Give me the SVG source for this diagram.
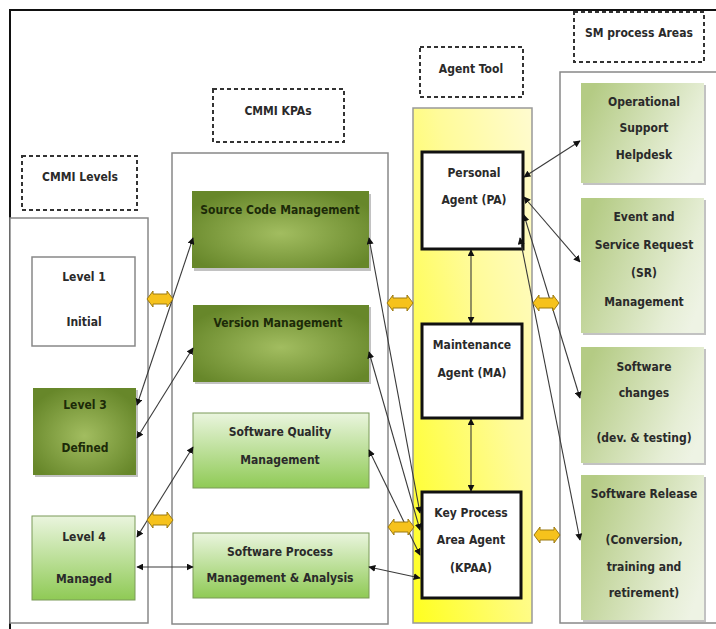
<svg xmlns="http://www.w3.org/2000/svg" width="716" height="629" viewBox="0 0 716 629">
<defs>
<style>
text{font-family:"DejaVu Sans Condensed","DejaVu Sans","Liberation Sans",sans-serif;font-stretch:condensed;font-weight:bold;font-size:12px;text-anchor:middle;fill:#2a2a2a}
.dark text{fill:#1c2a08}
.dash{fill:#fff;stroke:#333;stroke-width:2;stroke-dasharray:4 3}
.cont{fill:#fff;stroke:#888;stroke-width:1.5}
.agent{fill:#fff;stroke:#111;stroke-width:3}
.shadow{fill:#9a9a9a;opacity:0.6}
.conn line{stroke:#3a3a3a;stroke-width:1.1;marker-start:url(#ah);marker-end:url(#ah)}
.blk{fill:#f6c21c;stroke:#9c7a10;stroke-width:1}
</style>
<marker id="ah" viewBox="0 0 10 10" refX="9" refY="5" markerWidth="7" markerHeight="7" orient="auto-start-reverse" markerUnits="userSpaceOnUse">
<path d="M0,0 L10,5 L0,10 Z" fill="#111"/>
</marker>
<radialGradient id="gDark" cx="50%" cy="55%" r="60%">
<stop offset="0" stop-color="#a2bd60"/>
<stop offset="1" stop-color="#67872a"/>
</radialGradient>
<linearGradient id="gLight" x1="0" y1="0" x2="0" y2="1">
<stop offset="0" stop-color="#eaf5de"/>
<stop offset="1" stop-color="#8fca55"/>
</linearGradient>
<linearGradient id="gSM" x1="0" y1="0.3" x2="1" y2="0.7">
<stop offset="0" stop-color="#b4cb84"/>
<stop offset="0.8" stop-color="#e6eed6"/>
<stop offset="1" stop-color="#eef3e4"/>
</linearGradient>
<linearGradient id="gYel" x1="0" y1="1" x2="1" y2="0">
<stop offset="0" stop-color="#ffff1e"/>
<stop offset="0.6" stop-color="#fffb9a"/>
<stop offset="1" stop-color="#fffbd0"/>
</linearGradient>
<path id="dbl" d="M-13,0 L-7,-8 L-7,-5 L7,-5 L7,-8 L13,0 L7,8 L7,5 L-7,5 L-7,8 Z"/>
</defs>

<rect x="0" y="0" width="716" height="629" fill="#fff"/>
<path d="M10,629 L10,10 L716,10" fill="none" stroke="#111" stroke-width="2"/>

<g id="containers">
<rect class="cont" x="10" y="218" width="138" height="405"/>
<rect class="cont" x="172" y="153" width="216" height="471"/>
<rect x="413" y="108" width="119" height="515" fill="url(#gYel)" stroke="#999" stroke-width="1.5"/>
<rect class="cont" x="560" y="72" width="170" height="551"/>
</g>

<g id="label-levels"><rect class="dash" x="22" y="156" width="115" height="54"/><text x="80" y="181">CMMI Levels</text></g>
<g id="label-kpas"><rect class="dash" x="213" y="89" width="131" height="53"/><text x="278" y="115">CMMI KPAs</text></g>
<g id="label-agent"><rect class="dash" x="420" y="47" width="103" height="50"/><text x="471" y="73">Agent Tool</text></g>
<g id="label-sm"><rect class="dash" x="574" y="12" width="130" height="50"/><text x="639" y="37">SM process Areas</text></g>

<g id="level1"><rect x="32" y="257" width="103" height="89" fill="#fff" stroke="#888" stroke-width="1.5"/><text x="84" y="281">Level 1</text><text x="84" y="326">Initial</text></g>
<g id="level3" class="dark"><rect class="shadow" x="35" y="390" width="103" height="87"/><rect x="33" y="388" width="103" height="87" fill="url(#gDark)"/><text x="85" y="409">Level 3</text><text x="85" y="452">Defined</text></g>
<g id="level4"><rect x="32" y="516" width="103" height="84" fill="url(#gLight)" stroke="#7a9a58" stroke-width="1"/><text x="84" y="541">Level 4</text><text x="84" y="583">Managed</text></g>

<g id="scm" class="dark"><rect class="shadow" x="194" y="194" width="177" height="77"/><rect x="192" y="191" width="177" height="77" fill="url(#gDark)"/><text x="280" y="214">Source Code Management</text></g>
<g id="vm" class="dark"><rect class="shadow" x="195" y="307" width="176" height="77"/><rect x="193" y="305" width="176" height="77" fill="url(#gDark)"/><text x="278" y="327">Version Management</text></g>
<g id="sqm"><rect x="193" y="413" width="176" height="75" fill="url(#gLight)" stroke="#7a9a58" stroke-width="1"/><text x="280" y="436">Software Quality</text><text x="280" y="464">Management</text></g>
<g id="spma"><rect x="193" y="533" width="176" height="65" fill="url(#gLight)" stroke="#7a9a58" stroke-width="1"/><text x="280" y="556">Software Process</text><text x="280" y="582">Management &amp; Analysis</text></g>

<g id="pa"><rect class="agent" x="422" y="152" width="101" height="97"/><text x="474" y="177">Personal</text><text x="474" y="204">Agent (PA)</text></g>
<g id="ma"><rect class="agent" x="422" y="324" width="100" height="94"/><text x="472" y="349">Maintenance</text><text x="472" y="377">Agent (MA)</text></g>
<g id="kpaa"><rect class="agent" x="422" y="492" width="99" height="106"/><text x="471" y="517">Key Process</text><text x="471" y="544">Area Agent</text><text x="471" y="572">(KPAA)</text></g>

<g id="osh"><rect class="shadow" x="583" y="85" width="123" height="100"/><rect x="581" y="83" width="123" height="100" fill="url(#gSM)"/><text x="644" y="106">Operational</text><text x="644" y="132">Support</text><text x="644" y="159">Helpdesk</text></g>
<g id="esr"><rect class="shadow" x="583" y="200" width="123" height="135"/><rect x="581" y="198" width="123" height="135" fill="url(#gSM)"/><text x="644" y="221">Event and</text><text x="644" y="249">Service Request</text><text x="644" y="277">(SR)</text><text x="644" y="306">Management</text></g>
<g id="swc"><rect class="shadow" x="583" y="349" width="123" height="116"/><rect x="581" y="347" width="123" height="116" fill="url(#gSM)"/><text x="644" y="371">Software</text><text x="644" y="397">changes</text><text x="644" y="442">(dev. &amp; testing)</text></g>
<g id="swr"><rect class="shadow" x="583" y="477" width="123" height="145"/><rect x="581" y="475" width="123" height="145" fill="url(#gSM)"/><text x="644" y="498">Software Release</text><text x="644" y="544">(Conversion,</text><text x="644" y="571">training and</text><text x="644" y="597">retirement)</text></g>

<g id="connectors" class="conn">
<line x1="137" y1="405" x2="193" y2="238"/>
<line x1="137" y1="438" x2="193" y2="348"/>
<line x1="137" y1="537" x2="193" y2="447"/>
<line x1="137" y1="567" x2="193" y2="567"/>
<line x1="369" y1="238" x2="420" y2="513"/>
<line x1="369" y1="352" x2="420" y2="530"/>
<line x1="369" y1="450" x2="420" y2="555"/>
<line x1="369" y1="567" x2="420" y2="578"/>
<line x1="524" y1="177" x2="580" y2="141"/>
<line x1="524" y1="197" x2="580" y2="262"/>
<line x1="524" y1="215" x2="580" y2="398"/>
<line x1="520" y1="238" x2="580" y2="540"/>
<line x1="471" y1="250" x2="471" y2="323"/>
<line x1="471" y1="419" x2="471" y2="491"/>
</g>

<g id="block-arrows">
<use href="#dbl" class="blk" x="160" y="299"/>
<use href="#dbl" class="blk" x="160" y="520"/>
<use href="#dbl" class="blk" x="400" y="303"/>
<use href="#dbl" class="blk" x="546" y="303"/>
<use href="#dbl" class="blk" x="401" y="527"/>
<use href="#dbl" class="blk" x="547" y="535"/>
</g>
</svg>
